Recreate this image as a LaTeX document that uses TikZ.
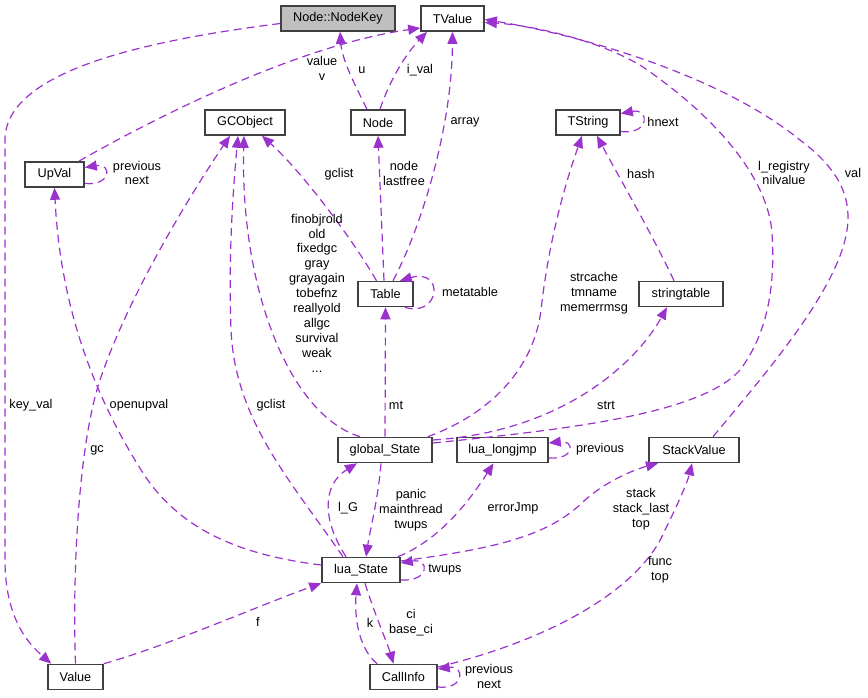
\documentclass[tikz,border=0pt]{standalone}
\usepackage{fontspec}
\setmainfont{Liberation Sans}
\usepackage{xcolor}
\definecolor{dxpurple}{RGB}{154,50,205}
\definecolor{dxgrey}{RGB}{191,191,191}
\definecolor{dxframe}{RGB}{64,64,64}
\usepackage{tikz}
\usetikzlibrary{positioning,arrows.meta}
\tikzset{
  cls/.style     ={rectangle,draw=dxframe,fill=white,line width=1.6pt,inner sep=0pt,
                   minimum height=25pt,minimum width=#1,font=\fontsize{12.7pt}{14.9pt}\selectfont},
  cls/.default   =60pt,
  key/.style     ={cls=#1,fill=dxgrey},
  lbl/.style     ={inner sep=0pt,align=center,font=\fontsize{12.7pt}{14.9pt}\selectfont},
  flow/.style    ={-{Triangle[length=12pt,width=10pt]},line width=1.2pt,draw=dxpurple,
                   dash pattern=on 8pt off 5pt},
}
\begin{document}
\begin{tikzpicture}[x=1pt,y=-1pt]
  \useasboundingbox (0,0) rectangle (868,697);
  \node[key=114pt] (nodekey) at (338,18.5) {Node::NodeKey};
  \node[cls=63pt] (tvalue) at (452.5,18.5) {TValue};
  \node[cls=59pt] (upval) at (54.5,174.5) {UpVal};
  \node[cls=80pt] (gcobject) at (245,122.5) {GCObject};
  \node[cls=54pt] (tnode) at (378,122.5) {Node};
  \node[cls=64pt] (tstring) at (588,122.5) {TString};
  \node[cls=55pt] (table) at (385.5,294) {Table};
  \node[cls=84pt] (strtab) at (681,294) {stringtable};
  \node[cls=94pt] (gstate) at (385,450) {global\_State};
  \node[cls=91pt] (longjmp) at (502.5,450) {lua\_longjmp};
  \node[cls=90pt] (stackval) at (694,450) {StackValue};
  \node[cls=78pt] (lstate) at (361,570) {lua\_State};
  \node[cls=55pt] (value) at (75.5,677) {Value};
  \node[cls=67pt] (callinfo) at (403.5,677) {CallInfo};

  \draw[flow] ([yshift=-5pt]nodekey.west) .. controls (150,40) and (5,70) .. (5,140)
    -- (5,560) .. controls (5,620) and (30,645) .. ([xshift=4pt]value.north west)
    node[lbl] at (31,405) {key\_val};
  \draw[flow] ([xshift=-6pt]upval.north east) .. controls (160,115) and (300,45) .. ([yshift=-9.5pt]tvalue.west)
    node[lbl] at (322,68) {value\\v};
  \draw[flow] ([xshift=-11pt]tnode.north) .. controls (355,85) and (342,60) .. ([xshift=2pt]nodekey.south)
    node[lbl] at (362,70) {u};
  \draw[flow] ([xshift=2pt]tnode.north) .. controls (390,80) and (405,55) .. ([xshift=-25.5pt]tvalue.south)
    node[lbl] at (420,70) {i\_val};
  \draw[flow] ([xshift=7.5pt]table.north) .. controls (420,230) and (452,130) .. (tvalue.south)
    node[lbl] at (465,122) {array};
  \draw[flow] ([xshift=-1.5pt]table.north) -- (tnode.south)
    node[lbl] at (404,173.5) {node\\lastfree};
  \draw[flow] ([xshift=-9pt]table.north) .. controls (350,235) and (300,170) .. ([xshift=17pt]gcobject.south)
    node[lbl] at (339,174) {gclist};
  \draw[flow] ([xshift=-9pt]table.south east) .. controls (440,318) and (445,268) .. ([xshift=-14pt]table.north east)
    node[lbl] at (470,292) {metatable};
  \draw[flow] (gstate.north) -- (table.south)
    node[lbl] at (396,405) {mt};
  \draw[flow] ([xshift=-25pt]gstate.north) .. controls (290,415) and (240,290) .. ([xshift=-1pt]gcobject.south)
    node[lbl] at (317,293) {finobjrold\\old\\fixedgc\\gray\\grayagain\\tobefnz\\reallyold\\allgc\\survival\\weak\\...};
  \draw[flow] ([xshift=-18pt]lstate.north) .. controls (290,480) and (235,420) .. (231,330)
    .. controls (228,250) and (234,180) .. ([xshift=-7pt]gcobject.south)
    node[lbl] at (271,405) {gclist};
  \draw[flow] (value.north) .. controls (72,560) and (80,440) .. (100,380)
    .. controls (130,290) and (200,180) .. ([xshift=-15pt]gcobject.south)
    node[lbl] at (97,450) {gc};
  \draw[flow] ([yshift=5pt]lstate.west) .. controls (240,555) and (180,530) .. (143,473)
    .. controls (90,390) and (60,300) .. (upval.south)
    node[lbl] at (139,405) {openupval};
  \draw[flow] ([xshift=-5pt]gstate.north east) .. controls (500,410) and (535,360) .. (541,310)
    .. controls (550,230) and (570,170) .. ([xshift=-6pt]tstring.south)
    node[lbl] at (594,293) {strcache\\tmname\\memerrmsg};
  \draw[flow] ([yshift=10pt]gstate.east) .. controls (560,432) and (635,365) .. ([xshift=-14pt]strtab.south)
    node[lbl] at (606,405) {strt};
  \draw[flow] ([xshift=-7pt]strtab.north) .. controls (650,230) and (615,170) .. ([xshift=9pt]tstring.south)
    node[lbl] at (641,174) {hash};
  \draw[flow] ([yshift=-9pt]tstring.east) .. controls (650,135) and (650,108) .. ([yshift=9pt]tstring.east)
    node[lbl] at (663,122) {hnext};
  \draw[flow] ([yshift=7pt]gstate.east) .. controls (560,430) and (700,415) .. (740,370)
    .. controls (770,330) and (775,280) .. (772,233) .. controls (768,180) and (720,120) .. (643,67)
    .. controls (600,40) and (530,25) .. ([yshift=-4pt]tvalue.east)
    node[lbl] at (784,173) {l\_registry\\nilvalue};
  \draw[flow] ([xshift=19pt]stackval.north) .. controls (760,380) and (830,300) .. (845,240)
    .. controls (855,200) and (840,170) .. (800,140) .. controls (720,75) and (580,35) .. ([yshift=-1pt]tvalue.east)
    node[lbl] at (853,173) {val};
  \draw[flow] ([xshift=-4pt]gstate.south) .. controls (378,500) and (370,530) .. ([xshift=5pt]lstate.north)
    node[lbl] at (411,510) {panic\\mainthread\\twups};
  \draw[flow] ([xshift=-15pt]lstate.north) .. controls (322,520) and (322,485) .. ([xshift=-28pt]gstate.south)
    node[lbl] at (348,508) {l\_G};
  \draw[flow] ([xshift=-3pt]lstate.north east) .. controls (440,540) and (470,500) .. ([xshift=-9pt]longjmp.south)
    node[lbl] at (513,508) {errorJmp};
  \draw[flow] ([yshift=-8pt]longjmp.east) .. controls (575,460) and (575,440) .. ([yshift=7pt]longjmp.east)
    node[lbl] at (600,449) {previous};
  \draw[flow] ([yshift=9pt]lstate.east) .. controls (500,548) and (550,535) .. (585,500)
    .. controls (610,478) and (640,468) .. ([xshift=-36pt]stackval.south)
    node[lbl] at (641,509) {stack\\stack\_last\\top};
  \draw[flow] ([yshift=-10pt]lstate.east) .. controls (430,582) and (430,558) .. ([yshift=7pt]lstate.east)
    node[lbl] at (445,570) {twups};
  \draw[flow] (value.north east) .. controls (170,645) and (260,605) .. (lstate.south west)
    node[lbl] at (258,622) {f};
  \draw[flow] ([xshift=8pt]callinfo.north west) .. controls (360,650) and (354,620) .. ([xshift=-4pt]lstate.south)
    node[lbl] at (370,623) {k};
  \draw[flow] ([xshift=4pt]lstate.south) .. controls (375,615) and (388,645) .. ([xshift=-10pt]callinfo.north)
    node[lbl] at (411,623) {ci\\base\_ci};
  \draw[flow] ([yshift=10pt]callinfo.east) .. controls (550,640) and (640,590) .. (665,530)
    .. controls (680,500) and (688,480) .. ([xshift=-2pt]stackval.south)
    node[lbl] at (660,570) {func\\top};
  \draw[flow] ([yshift=-10pt]callinfo.east) .. controls (465,690) and (465,665) .. ([yshift=8pt]callinfo.east)
    node[lbl] at (489,676) {previous\\next};
  \draw[flow] ([yshift=-9pt]upval.east) .. controls (112,186) and (112,163) .. ([yshift=7pt]upval.east)
    node[lbl] at (137,173) {previous\\next};
\end{tikzpicture}
\end{document}
